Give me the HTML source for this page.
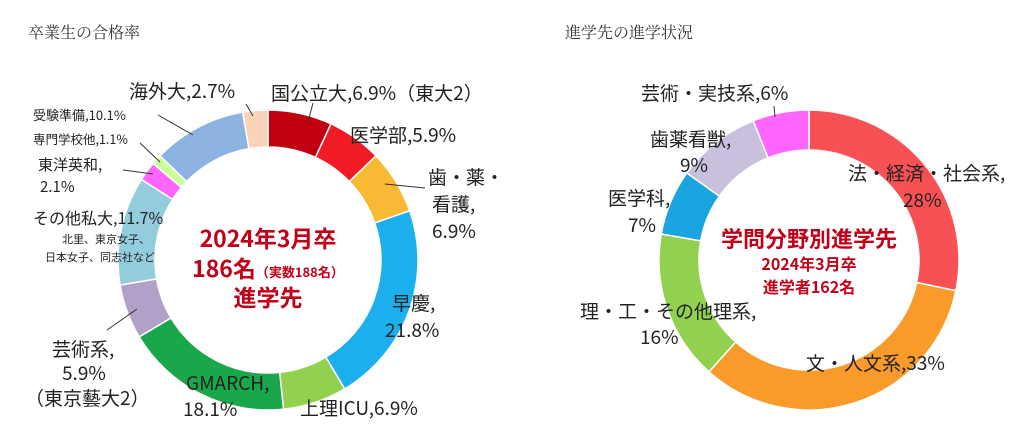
<!DOCTYPE html>
<html><head><meta charset="utf-8"><style>
html,body{margin:0;padding:0;background:#fff}
svg{display:block;font-family:"Noto Sans CJK JP","Liberation Sans",sans-serif}
.l{font-size:19px;fill:#222}
</style></head><body>
<svg id="c" width="1024" height="440" viewBox="0 0 1024 440">
<text x="28" y="38" font-size="16" fill="#333" font-family="Noto Serif CJK SC, serif">卒業生の合格率</text>
<text x="565" y="38" font-size="16" fill="#333" font-family="Noto Serif CJK SC, serif">進学先の進学状況</text>
<g id="left"></g>
<g id="right"></g>
<g stroke="#333" stroke-width="1">
<line x1="158" y1="115" x2="193" y2="135"/><line x1="140" y1="143" x2="160" y2="162"/>
<line x1="123" y1="170" x2="153" y2="174"/><line x1="107" y1="330" x2="137" y2="309"/>
<line x1="246" y1="104" x2="253" y2="116"/><line x1="313" y1="103" x2="308" y2="122"/>
<line x1="385" y1="184" x2="425" y2="188"/><line x1="774" y1="106" x2="775" y2="117"/>
</g>
<g>
<text class="l" x="129" y="98">海外大,2.7%</text>
<text class="l" x="271" y="100">国公立大,6.9%（東大2）</text>
<text class="l" x="350" y="142">医学部,5.9%</text>
<text class="l" x="428" y="184">歯・薬・</text><text class="l" x="432" y="211">看護,</text><text class="l" x="432" y="238">6.9%</text>
<text class="l" x="392" y="310">早慶,</text><text class="l" x="385" y="337">21.8%</text>
<text class="l" x="300" y="415">上理ICU,6.9%</text>
<text class="l" x="186" y="390">GMARCH,</text><text class="l" x="183" y="416">18.1%</text>
<text class="l" x="52" y="356">芸術系,</text><text class="l" x="62" y="380">5.9%</text><text class="l" x="25" y="405">（東京藝大2）</text>
<text x="33" y="224" font-size="16" fill="#222">その他私大,11.7%</text>
<text x="62" y="243" font-size="11" fill="#222">北里、東京女子、</text>
<text x="45" y="261" font-size="11" fill="#222">日本女子、同志社など</text>
<text x="38" y="170" font-size="15" fill="#222">東洋英和,</text><text x="40" y="192" font-size="15" fill="#222">2.1%</text>
<text x="33" y="144" font-size="12.5" fill="#222">専門学校他,1.1%</text>
<text x="33" y="120" font-size="13" fill="#222">受験準備,10.1%</text>
</g>
<g fill="#c00018" font-weight="bold" text-anchor="middle">
<text x="268" y="247" font-size="23">2024年3月卒</text>
<text x="268" y="277" font-size="23">186名<tspan font-size="13">（実数188名）</tspan></text>
<text x="268" y="306" font-size="23">進学先</text>
</g>
<g>
<text class="l" x="641" y="100">芸術・実技系,6%</text>
<text class="l" x="650" y="146">歯薬看獣,</text><text class="l" x="680" y="172">9%</text>
<text class="l" x="608" y="205">医学科,</text><text class="l" x="628" y="232">7%</text>
<text class="l" x="848" y="180">法・経済・社会系,</text><text class="l" x="903" y="207">28%</text>
<text class="l" x="580" y="318">理・工・その他理系,</text><text class="l" x="640" y="344">16%</text>
<text class="l" x="806" y="370">文・人文系,33%</text>
</g>
<g fill="#c00018" font-weight="bold" text-anchor="middle">
<text x="809" y="247" font-size="22">学問分野別進学先</text>
<text x="809" y="270" font-size="16">2024年3月卒</text>
<text x="809" y="293" font-size="16">進学者162名</text>
</g>
</svg>
<script>
const leftCategories=["国公立大","医学部","歯・薬・看護","早慶","上理ICU","GMARCH","芸術系","その他私大","東洋英和","専門学校他","受験準備","海外大"];
const leftValues=[6.9,5.9,6.9,21.8,6.9,18.1,5.9,11.7,2.1,1.1,10.1,2.7];
const leftColors=["#c00010","#f01b24","#f9b934","#1cafed","#92d050","#1aa64a","#b1a0c7","#93cddd","#ff66ff","#ccff99","#8db3e2","#f9d4b8"];
const rightCategories=["法・経済・社会系","文・人文系","理・工・その他理系","医学科","歯薬看獣","芸術・実技系"];
const rightValues=[28,33,16,7,9,6];
const rightColors=["#f85155","#f99a2a","#92d050","#1aa5e0","#c8c0dc","#ff66ff"];
function arc(cx,cy,r0,r1,a0,a1){
  const p=(r,a)=>[cx+r*Math.cos(a),cy+r*Math.sin(a)];
  const lg=(a1-a0)>Math.PI?1:0;
  const [x0,y0]=p(r1,a0),[x1,y1]=p(r1,a1),[x2,y2]=p(r0,a1),[x3,y3]=p(r0,a0);
  return `M${x0},${y0}A${r1},${r1} 0 ${lg} 1 ${x1},${y1}L${x2},${y2}A${r0},${r0} 0 ${lg} 0 ${x3},${y3}Z`;
}
function donut(gid,cats,vals,cols,cx,cy,r0,r1){
  const g=document.getElementById(gid);
  const tot=vals.reduce((a,b)=>a+b,0);
  let a=-Math.PI/2;
  vals.forEach((v,i)=>{
    const a1=a+v/tot*2*Math.PI;
    const el=document.createElementNS("http://www.w3.org/2000/svg","path");
    el.setAttribute("d",arc(cx,cy,r0,r1,a,a1));
    el.setAttribute("fill",cols[i]);
    el.setAttribute("stroke","#fff");
    el.setAttribute("stroke-width","1.5");
    
    
    g.appendChild(el);
    a=a1;
  });
}
donut("left",leftCategories,leftValues,leftColors,268,260,113,150);
donut("right",rightCategories,rightValues,rightColors,809,260,110,150);
</script>
</body></html>
